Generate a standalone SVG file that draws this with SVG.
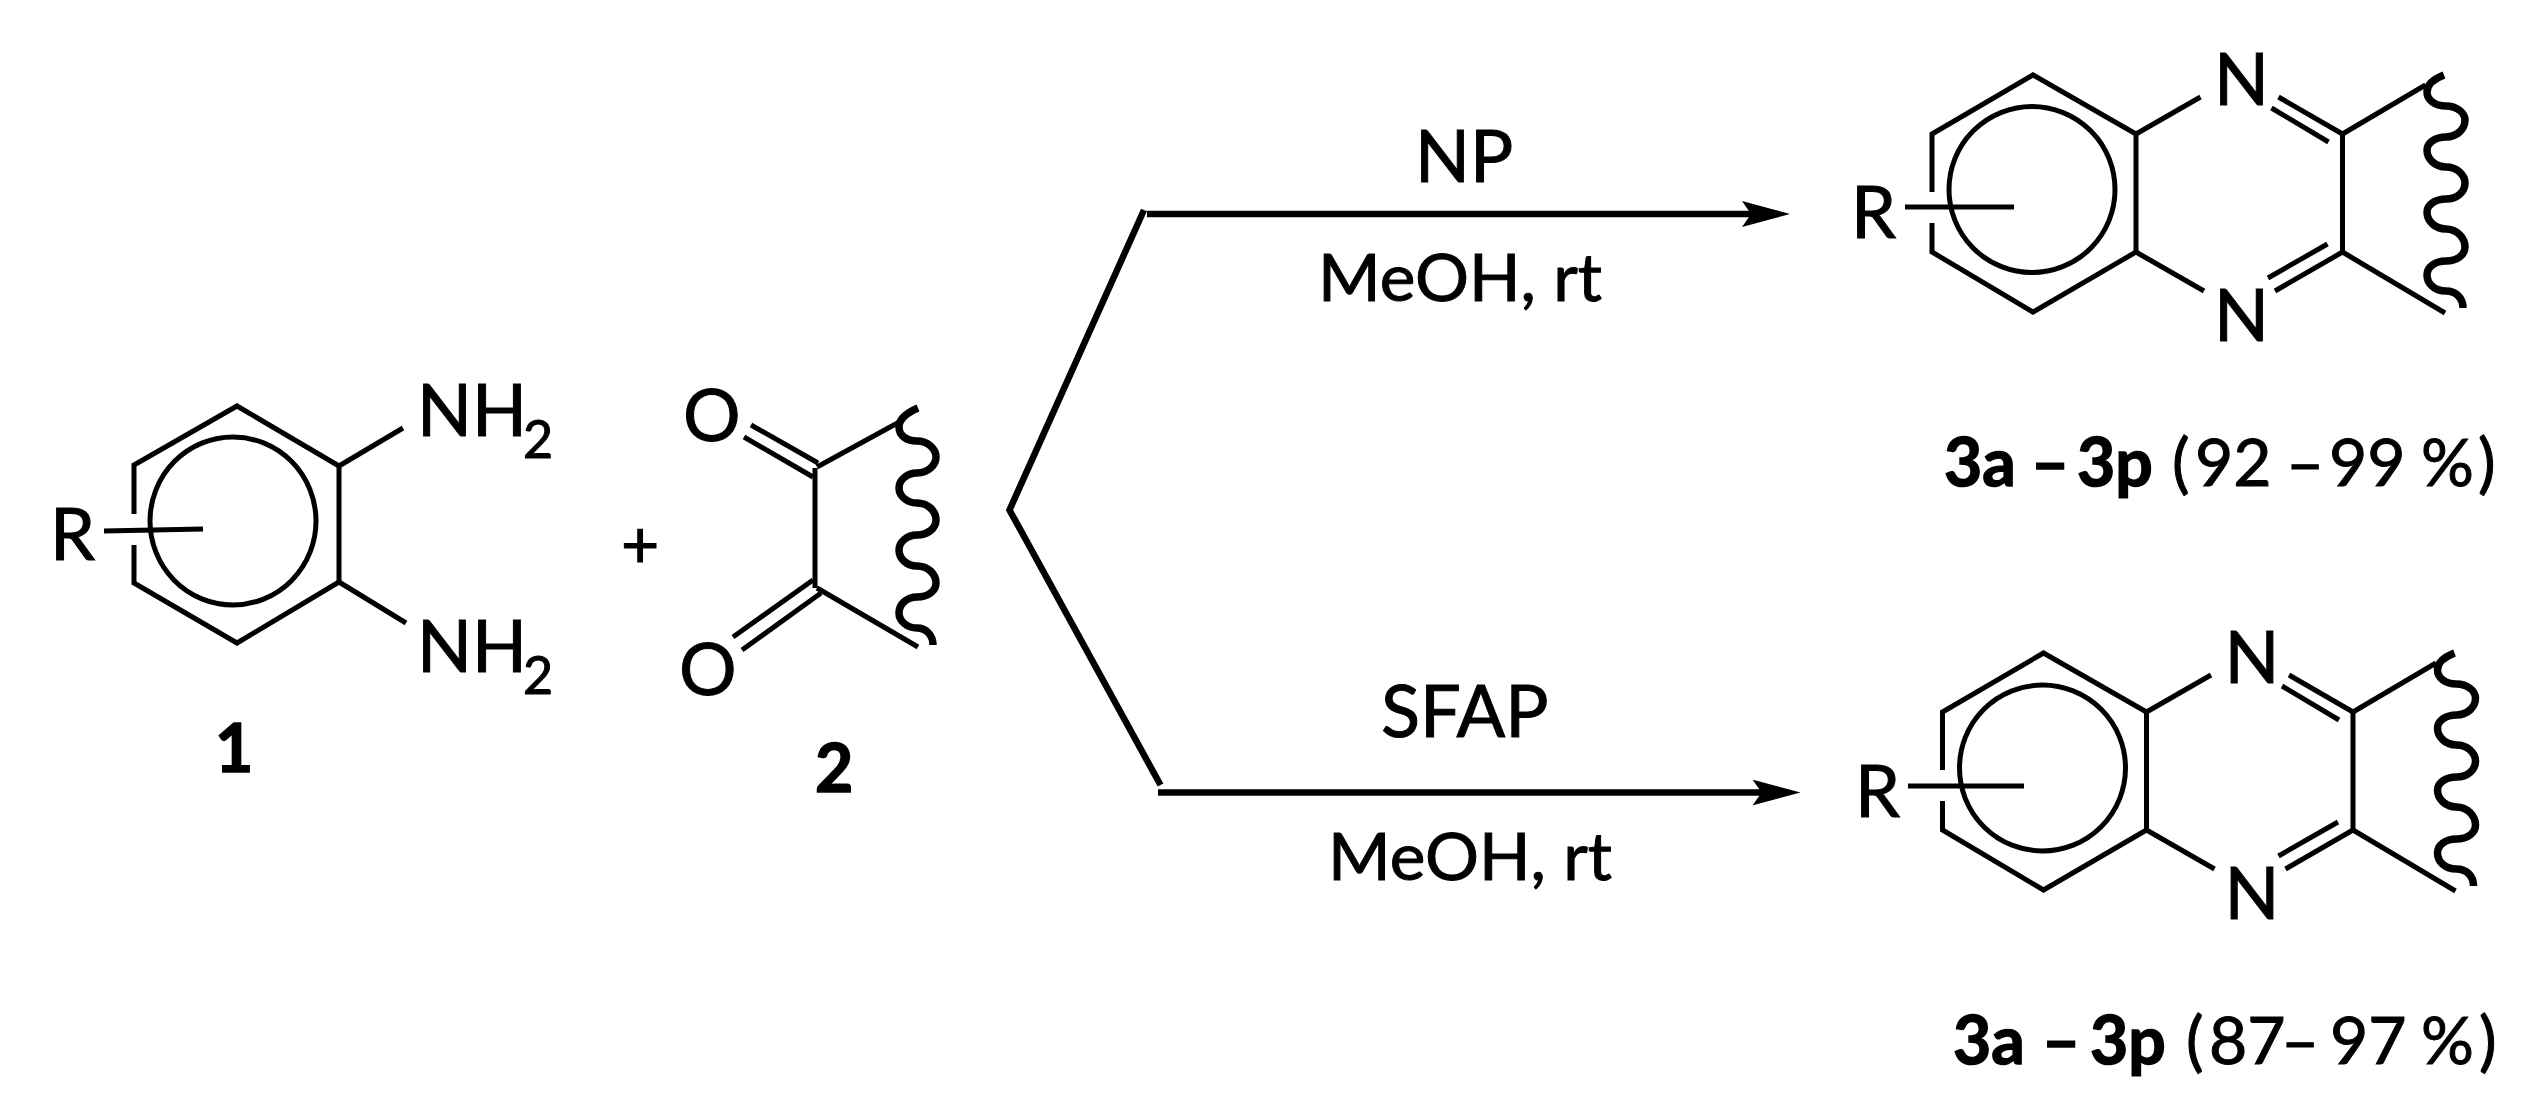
<svg xmlns="http://www.w3.org/2000/svg" width="2532" height="1104" viewBox="0 0 2532 1104">
<style>
.b{fill:none;stroke:#000;stroke-width:5}
.w{fill:none;stroke:#000;stroke-width:7.500}
.c{fill:none;stroke:#000;stroke-width:6.500}
text{font-family:Lato,"Liberation Sans",sans-serif;fill:#000;stroke:#000;stroke-width:1}
.l{font-size:72px}
.s{font-size:52px}
.m{font-size:66px}
.y{font-size:66px}
.h{font-size:66px;font-weight:700;stroke-width:1.500}
</style>
<defs>
<marker id="ah" markerUnits="userSpaceOnUse" markerWidth="50" markerHeight="28" refX="36" refY="14" orient="auto"><path d="M0,1 L48,14 L0,27 L9,14 Z" fill="#000"/></marker>
</defs>
<rect width="2532" height="1104" fill="#fff"/>
<g id="connectors">
<path class="c" d="M1144,210 L1009.5,510 L1160.5,785"/>
<path class="c" marker-end="url(#ah)" d="M1147,214 L1778,214"/>
<path class="c" marker-end="url(#ah)" d="M1158,792.5 L1788.5,792.5"/>
</g>
<g id="node-1">
<path class="b" d="M134,514 V465 L237,406 L339,466 V582 L237,643 L134,583 V545"/>
<ellipse class="b" cx="233" cy="521" rx="83" ry="84"/>
<path class="b" d="M104,531 L203,529"/>
<path class="b" d="M339,466 L403,428 M339,582 L406,623"/>
<text class="l" x="50" y="560">R</text>
<text class="l" x="417" y="436">NH</text>
<text class="s" x="523" y="458">2</text>
<text class="l" x="417" y="672">NH</text>
<text class="s" x="523" y="694">2</text>
<text class="h" x="215" y="772">1</text>
</g>
<g id="plus"><text class="m" x="621" y="568">+</text></g>
<g id="node-2">
<path class="b" d="M815,468 V588 M817,467 L903,420 M817,588 L918,647"/>
<path class="b" d="M751,425 L818,463 M744,437 L813,477 M733,637 L813,580 M742,650 L821,593"/>
<path class="w" d="M918,408 C904,414 899,420 899,427 C899,436 907,441 917,441 C928,441 936,449 936,457 C936,465 928,473 917,473 C907,473 899,480 899,488 C899,496 907,503 917,503 C928,503 936,511 936,520 C936,528 928,535 917,535 C907,535 899,542 899,550 C899,559 907,566 917,566 C928,566 936,574 936,583 C936,591 928,597 917,597 C907,597 899,604 899,613 C899,621 907,628 917,628 C926,628 933,635 933,645"/>
<text class="l" x="683" y="441">O</text>
<text class="l" x="679" y="695">O</text>
<text class="h" x="815" y="792">2</text>
</g>
<g id="node-3-top">
<path class="b" d="M1932,192 V134 L2033,75 L2136,134 V252 L2033,312 L1932,252 V223"/>
<ellipse class="b" cx="2032" cy="189.500" rx="83" ry="83"/>
<path class="b" d="M1905,207 H2014"/>
<path class="b" d="M2136,134 L2200.500,97 M2136,252 L2204,291 M2342.500,134 V252"/>
<path class="b" d="M2278.500,97 L2342.500,134 M2271.500,108 L2328.500,142 M2275,291 L2342.500,252 M2268,278 L2327.500,244"/>
<path class="b" d="M2342.500,134 L2425.500,85 M2342.500,252 L2445,313"/>
<path class="w" d="M2444,75 C2431,80 2427,86 2427,92 C2427,100 2435,106 2446,106 C2457,106 2465,113 2465,120 C2465,129 2457,137 2446,137 C2435,137 2427,143 2427,150 C2427,159 2435,167 2446,167 C2457,167 2465,175 2465,183 C2465,192 2457,199 2446,199 C2435,199 2427,205 2427,212 C2427,221 2435,229 2446,229 C2457,229 2465,238 2465,247 C2465,255 2457,261 2446,261 C2435,261 2427,267 2427,275 C2427,284 2435,291 2446,291 C2456,291 2463,298 2463,308"/>
<text class="l" x="1851" y="238">R</text>
<text class="l" x="2214" y="105">N</text>
<text class="l" x="2214" y="341">N</text>
</g>
<g id="node-3-bottom">
<g transform="translate(10.500 578)">
<path class="b" d="M1932,192 V134 L2033,75 L2136,134 V252 L2033,312 L1932,252 V223"/>
<ellipse class="b" cx="2032" cy="190" rx="83" ry="83"/>
<path class="b" d="M2136,134 L2200.500,97 M2136,252 L2204,291 M2342.500,134 V252"/>
<path class="b" d="M2278.500,97 L2342.500,134 M2271.500,108 L2328.500,142 M2275,291 L2342.500,252 M2268,278 L2327.500,244"/>
<path class="b" d="M2342.500,134 L2425.500,85 M2342.500,252 L2445,313"/>
<path class="w" d="M2444,75 C2431,80 2427,86 2427,92 C2427,100 2435,106 2446,106 C2457,106 2465,113 2465,120 C2465,129 2457,137 2446,137 C2435,137 2427,143 2427,150 C2427,159 2435,167 2446,167 C2457,167 2465,175 2465,183 C2465,192 2457,199 2446,199 C2435,199 2427,205 2427,212 C2427,221 2435,229 2446,229 C2457,229 2465,238 2465,247 C2465,255 2457,261 2446,261 C2435,261 2427,267 2427,275 C2427,284 2435,291 2446,291 C2456,291 2463,298 2463,308"/>
<text class="l" x="2214" y="105">N</text>
<text class="l" x="2214" y="341">N</text>
</g>
<path class="b" d="M1908,786 H2024"/>
<text class="l" x="1855" y="817">R</text>
</g>
<g id="labels">
<text class="l" x="1415" y="182">NP</text>
<text class="m" x="1318" y="301" textLength="284" lengthAdjust="spacingAndGlyphs">MeOH, rt</text>
<text class="l" x="1381" y="737">SFAP</text>
<text class="m" x="1328" y="880" textLength="284" lengthAdjust="spacingAndGlyphs">MeOH, rt</text>
<text class="h" x="1944" y="486">3a</text>
<text class="h" x="2031" y="486">–</text>
<text class="h" x="2077" y="486">3p</text>
<text class="y" x="2172" y="486">(</text>
<text class="y" x="2195" y="486">92</text>
<text class="y" x="2286" y="486">–</text>
<text class="y" x="2329" y="486">99</text>
<text class="y" x="2421" y="486">%</text>
<text class="y" x="2478" y="486">)</text>
<text class="h" x="1953" y="1064">3a</text>
<text class="h" x="2042" y="1064">–</text>
<text class="h" x="2090" y="1064">3p</text>
<text class="y" x="2186" y="1064">(</text>
<text class="y" x="2209" y="1064">87</text>
<text class="y" x="2281" y="1064">–</text>
<text class="y" x="2330" y="1064">97</text>
<text class="y" x="2421" y="1064">%</text>
<text class="y" x="2479" y="1064">)</text>
</g>
</svg>
